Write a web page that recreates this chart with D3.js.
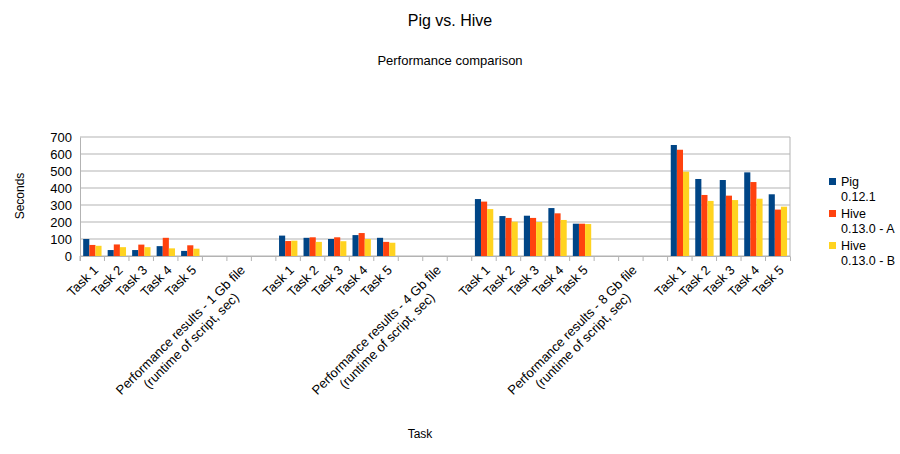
<!DOCTYPE html><html><head><meta charset="utf-8"><script src="https://cdn.jsdelivr.net/npm/d3@7"></script>
<style>body{margin:0;background:#fff}text{font-family:"Liberation Sans",Arial,sans-serif}</style></head><body><svg id="c" width="900" height="454"></svg><script>
const categories=["Task 1","Task 2","Task 3","Task 4","Task 5","","Performance results  - 1 Gb file\n(runtime of script, sec)","",
"Task 1","Task 2","Task 3","Task 4","Task 5","","Performance results  - 4 Gb file\n(runtime of script, sec)","",
"Task 1","Task 2","Task 3","Task 4","Task 5","","Performance results  - 8 Gb file\n(runtime of script, sec)","",
"Task 1","Task 2","Task 3","Task 4","Task 5"];
const pig=[100,35,35,58,30,null,null,null,120,107,100,123,107,null,null,null,335,235,237,282,190,null,null,null,653,453,447,492,363];
const hiveA=[65,68,67,107,63,null,null,null,88,110,110,135,83,null,null,null,320,224,224,251,190,null,null,null,625,359,355,435,273];
const hiveB=[60,52,52,45,43,null,null,null,90,83,87,100,78,null,null,null,276,202,200,212,188,null,null,null,496,324,329,337,290];
const series=[{name:["Pig","0.12.1"],vals:pig,color:"#004586"},{name:["Hive","0.13.0 - A"],vals:hiveA,color:"#ff420e"},{name:["Hive","0.13.0 - B"],vals:hiveB,color:"#ffd320"}];
const yTicks=[0,100,200,300,400,500,600,700];
const svg=d3.select("#c");
const L=80,R=790,T=137,B=256;
const x=d3.scaleBand().domain(d3.range(categories.length)).range([L,R]);
const y=d3.scaleLinear().domain([0,700]).range([B,T]);
svg.append("text").attr("x",450).attr("y",26).attr("text-anchor","middle").attr("font-size",16).text("Pig vs. Hive");
svg.append("text").attr("x",450).attr("y",65).attr("text-anchor","middle").attr("font-size",13).text("Performance comparison");
const g=svg.append("g");
yTicks.forEach(t=>g.append("line").attr("x1",L).attr("x2",R).attr("y1",y(t)).attr("y2",y(t)).attr("stroke","#b3b3b3"));
g.append("line").attr("x1",R).attr("x2",R).attr("y1",T).attr("y2",B).attr("stroke","#b3b3b3");
const ya=svg.append("g").attr("transform",`translate(${L},0)`).call(d3.axisLeft(y).tickValues(yTicks).tickSize(0).tickPadding(8));
ya.select(".domain").attr("stroke","#b3b3b3");
ya.selectAll("text").attr("font-size",13).attr("fill","#000").style("font-family","Liberation Sans");
const bw=x.bandwidth()*0.25, off=x.bandwidth()*0.13;
series.forEach((s,i)=>{
  svg.append("g").selectAll("rect").data(s.vals.map((v,j)=>({v,j})).filter(d=>d.v!=null)).join("rect")
   .attr("x",d=>x(d.j)+off+i*bw).attr("width",bw).attr("y",d=>y(d.v)).attr("height",d=>B-y(d.v)).attr("fill",s.color);
});
const xa=svg.append("g").attr("transform",`translate(0,${B})`).call(d3.axisBottom(x).tickSize(5).tickFormat(""));
xa.select(".domain").attr("stroke","#b3b3b3");xa.selectAll("line").attr("stroke","#b3b3b3").attr("transform",`translate(${-x.bandwidth()/2},0)`);
categories.forEach((c,j)=>{
  if(!c)return;
  const lines=c.split("\n");
  const cx=x(j)+x.bandwidth()/2+4, cy=B+12;
  const t=svg.append("text").attr("transform",`translate(${cx},${cy}) rotate(-45)`).attr("font-size",13);
  const spans=lines.map((ln,k)=>t.append("tspan").attr("dy",k==0?4:15).text(ln));
  const w0=spans[0].node().getComputedTextLength();
  spans.forEach(sp=>sp.attr("text-anchor","middle").attr("x",-w0/2));
});
svg.append("text").attr("transform","translate(24,196) rotate(-90)").attr("text-anchor","middle").attr("font-size",12).text("Seconds");
svg.append("text").attr("x",420).attr("y",438).attr("text-anchor","middle").attr("font-size",12).text("Task");
series.forEach((s,i)=>{
  const ly=178+i*32;
  svg.append("rect").attr("x",829).attr("y",ly).attr("width",7).attr("height",7).attr("fill",s.color);
  svg.append("text").attr("x",841).attr("y",ly+8).attr("font-size",12.5).text(s.name[0]);
  svg.append("text").attr("x",841).attr("y",ly+23).attr("font-size",12.5).text(s.name[1]);
});
</script></body></html>
